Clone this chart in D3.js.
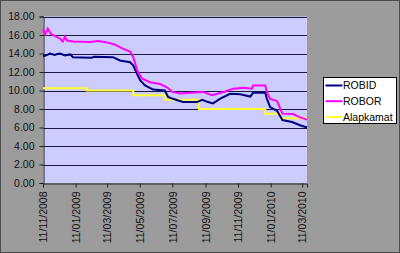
<!DOCTYPE html>
<html>
<head>
<meta charset="UTF-8">
<style>
  body { margin: 0; background: #9c9c9c; }
  svg { display: block; }
  text { font-family: "Liberation Sans", Arial, sans-serif; }
</style>
</head>
<body>
<svg id="chart" width="400" height="253"></svg>
<script src="https://d3js.org/d3.v7.min.js"></script>
<script>
// dates are dd/mm in the labels, stored here as ISO
var robidDates = ["2008-11-11","2008-11-17","2008-11-24","2008-12-03","2008-12-08","2008-12-13","2008-12-22","2009-01-01","2009-01-06",
  "2009-02-10","2009-02-15","2009-03-22","2009-04-04","2009-04-23","2009-04-29","2009-05-06","2009-05-12","2009-05-21","2009-06-05",
  "2009-06-27","2009-07-03","2009-07-12","2009-07-31","2009-08-26","2009-09-05","2009-09-16","2009-09-25",
  "2009-10-08","2009-10-27","2009-11-15","2009-12-04","2009-12-09","2010-01-01","2010-01-04","2010-01-10",
  "2010-01-23","2010-02-02","2010-02-20","2010-03-07","2010-03-20"];
var robidValues = [13.7,13.8,14.0,13.85,13.95,14.0,13.8,13.9,13.6,
  13.55,13.65,13.6,13.25,13.05,12.7,11.8,11.1,10.55,10.1,
  10.0,9.3,9.1,8.75,8.75,9.0,8.75,8.6,
  9.1,9.65,9.6,9.35,9.75,9.75,9.1,8.2,
  7.8,6.8,6.6,6.25,6.0];

var roborDates = ["2008-11-11","2008-11-15","2008-11-20","2008-11-26","2008-12-03","2008-12-13","2008-12-18",
  "2008-12-22","2008-12-26","2009-01-06","2009-02-07","2009-02-22","2009-03-11","2009-03-26","2009-04-10",
  "2009-04-23","2009-04-29","2009-05-06","2009-05-15","2009-05-30","2009-06-18","2009-07-01","2009-07-11",
  "2009-07-26","2009-08-13","2009-09-07","2009-09-23","2009-10-03","2009-10-18","2009-11-02","2009-11-21",
  "2009-12-07","2009-12-09","2010-01-01","2010-01-04","2010-01-10","2010-01-23","2010-02-02","2010-02-22",
  "2010-03-07","2010-03-20"];
var roborValues = [16.6,16.1,16.7,16.1,15.9,15.6,15.3,
  15.8,15.4,15.3,15.25,15.35,15.2,14.95,14.5,
  14.2,13.6,12.2,11.3,10.9,10.7,10.35,9.85,
  9.67,9.75,9.85,9.5,9.65,9.9,10.2,10.3,
  10.2,10.55,10.55,9.85,9.1,8.85,7.5,7.45,
  7.1,6.85];

var alapDates = ["2008-11-11","2009-02-01","2009-04-29","2009-06-28","2009-08-30","2010-01-01","2010-01-29","2010-03-20"];
var alapValues = [10.25,10.0,9.5,9.0,8.0,7.5,7.0,7.0];

var seriesNames = ["ROBID","ROBOR","Alapkamat"];
var seriesColors = ["#000080","#ff00ff","#ffff33"];
var yTicks = [0,2,4,6,8,10,12,14,16,18];
var xTickDates = ["2008-11-11","2009-01-11","2009-03-11","2009-05-11","2009-07-11","2009-09-11","2009-11-11","2010-01-11","2010-03-11"];

var parse = d3.timeParse("%Y-%m-%d");
var fmt = d3.timeFormat("%d/%m/%Y");

var svg = d3.select("#chart");
svg.append("rect").attr("x",0.5).attr("y",0.5).attr("width",399).attr("height",252)
  .style("fill","#9c9c9c").style("stroke","#4a4a4a");

var plotLeft = 43, plotRight = 307, plotTop = 16.5, plotBottom = 183;

var x = d3.scaleTime()
  .domain([parse("2008-11-11"), parse("2010-03-20")])
  .range([plotLeft, plotRight]);
var y = d3.scaleLinear().domain([0,18]).range([plotBottom, plotTop]);

// plot area
svg.append("rect").attr("x",plotLeft).attr("y",plotTop)
  .attr("width",plotRight-plotLeft).attr("height",plotBottom-plotTop)
  .style("fill","#ccccff");

// gridlines
svg.selectAll(".grid").data(yTicks.slice(1)).enter().append("line")
  .attr("x1",plotLeft).attr("x2",plotRight)
  .attr("y1",function(d){return Math.round(y(d))+0.5})
  .attr("y2",function(d){return Math.round(y(d))+0.5})
  .style("stroke","#1a1a40").style("stroke-width",1);

// y axis
var yAxis = d3.axisLeft(y).tickValues(yTicks).tickSize(4).tickPadding(5)
  .tickFormat(d3.format(".2f"));
var gy = svg.append("g").attr("transform","translate("+(plotLeft+0.5)+",0)").call(yAxis);
gy.select(".domain").style("stroke","#222");
gy.selectAll(".tick line").style("stroke","#222");
gy.selectAll("text").style("font-size","10.5px").style("fill","#111")
  .style("font-family","'Liberation Sans', Arial, sans-serif");

// x axis
var xAxis = d3.axisBottom(x).tickValues(xTickDates.map(parse)).tickSize(4).tickFormat(fmt);
var gx = svg.append("g").attr("transform","translate(0,"+(plotBottom+0.5)+")").call(xAxis);
gx.select(".domain").style("stroke","#222");
gx.selectAll(".tick line").style("stroke","#222");
gx.selectAll("text")
  .style("font-size","10.5px").style("fill","#111")
  .style("font-family","'Liberation Sans', Arial, sans-serif")
  .attr("transform","rotate(-90)")
  .attr("text-anchor","end")
  .attr("x",-8).attr("y",0).attr("dy","0.35em");

// lines
var line = d3.line().x(function(d){return x(d[0])}).y(function(d){return y(d[1])});
var stepLine = d3.line().curve(d3.curveStepAfter).x(function(d){return x(d[0])}).y(function(d){return y(d[1])});

function zipData(dates, vals){
  return dates.map(function(d,i){return [parse(d), vals[i]]});
}

svg.append("path").datum(zipData(alapDates, alapValues)).attr("d", stepLine)
  .style("fill","none").style("stroke",seriesColors[2]).style("stroke-width",2);
svg.append("path").datum(zipData(robidDates, robidValues)).attr("d", line)
  .style("fill","none").style("stroke",seriesColors[0]).style("stroke-width",2);
svg.append("path").datum(zipData(roborDates, roborValues)).attr("d", line)
  .style("fill","none").style("stroke",seriesColors[1]).style("stroke-width",2);

// legend
var lg = svg.append("g").attr("transform","translate(323.5,77.5)");
lg.append("rect").attr("width",73).attr("height",46).style("fill","#fff").style("stroke","#000");
var items = lg.selectAll(".item").data(seriesNames).enter().append("g")
  .attr("transform",function(d,i){return "translate(0,"+(8+i*15.7)+")"});
items.append("line").attr("x1",2).attr("x2",19).attr("y1",0).attr("y2",0)
  .style("stroke",function(d,i){return seriesColors[i]}).style("stroke-width",2);
items.append("text").attr("x",19.5).attr("y",0).attr("dy","0.36em")
  .style("font-size","10.5px").style("fill","#000").text(function(d){return d});
</script>
</body>
</html>
